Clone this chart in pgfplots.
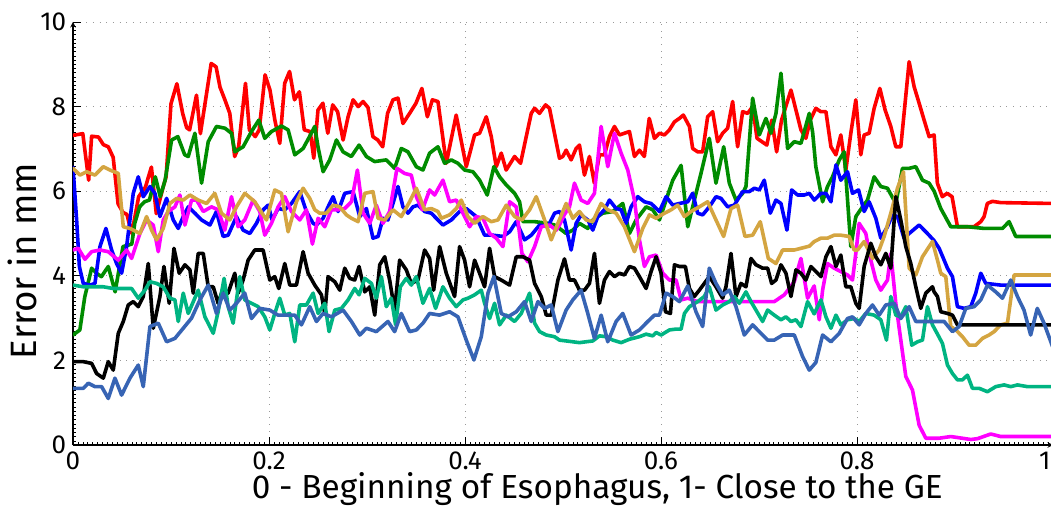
\documentclass[border=0pt]{standalone}
\usepackage{pgfplots}
\pgfplotsset{compat=1.18}
\usepackage{fontspec}
\setmainfont{Fira Sans}
\definecolor{cred}{RGB}{255,0,0}
\definecolor{cgreen}{RGB}{0,140,0}
\definecolor{cblue}{RGB}{0,0,255}
\definecolor{cmag}{RGB}{255,0,255}
\definecolor{cgold}{RGB}{212,165,65}
\definecolor{cteal}{RGB}{0,180,130}
\definecolor{csteel}{RGB}{55,100,180}
\begin{document}
\begin{tikzpicture}
\begin{axis}[
  at={(54.75pt,46.5pt)}, anchor=south west,
  scale only axis, width=735pt, height=317.25pt,
  xmin=0, xmax=1, ymin=0, ymax=10,
  axis lines=left,
  every non boxed x axis/.append style={x axis line style={-}},
  every non boxed y axis/.append style={y axis line style={-}},
  axis line style={black, line width=0.8pt},
  xtick={0,0.2,0.4,0.6,0.8,1},
  ytick={0,2,4,6,8,10},
  xticklabels={0,0.2,0.4,0.6,0.8,\makebox[0pt][r]{1\hspace{2pt}}},
  yticklabels={0,2,4,6,8,10},
  minor x tick num=39, minor y tick num=19,
  tick align=inside,
  major tick length=6pt, minor tick length=2pt,
  tick style={black, line width=0.6pt},
  minor tick style={black, line width=0.4pt},
  grid=major,
  major grid style={gray!80, line width=0.7pt, dash pattern=on 0.8pt off 4.2pt},
  /pgf/number format/assume math mode=true,
  ticklabel style={font=\fontsize{19.5pt}{20pt}\selectfont},
  xticklabel style={anchor=north, inner sep=0pt, yshift=-5pt},
  yticklabel style={anchor=east, inner sep=0pt, xshift=-5pt},
  every axis x label/.style={at={(axis description cs:0.535,-0.104)}, anchor=center, font=\fontsize{25pt}{26pt}\selectfont},
  every axis y label/.style={at={(axis description cs:-0.052,0.435)}, anchor=center, rotate=90, font=\fontsize{27.5pt}{28pt}\selectfont},
  xlabel={0 - Beginning of Esophagus, 1- Close to the GE},
  ylabel={Error in mm},
  every axis plot/.append style={line width=2.7pt, line join=round, line cap=round},
]
% red
\addplot[cred] coordinates {(0,7.32)(0.010,7.36)(0.016,6.26)(0.019,7.30)(0.026,7.28)(0.031,7.10)(0.036,7.05)(0.041,6.80)(0.046,5.70)(0.051,5.50)(0.055,5.45)(0.060,5.00)(0.067,5.87)(0.074,6.10)(0.077,6.34)(0.080,6.57)(0.085,5.47)(0.092,6.10)(0.095,6.34)(0.100,8.07)(0.106,8.54)(0.112,7.83)(0.116,7.50)(0.119,7.45)(0.126,8.27)(0.130,7.36)(0.141,9.02)(0.146,8.94)(0.150,8.46)(0.155,8.16)(0.160,7.84)(0.165,6.82)(0.169,7.05)(0.176,8.55)(0.180,7.45)(0.186,7.29)(0.190,7.45)(0.196,8.75)(0.201,8.39)(0.206,7.68)(0.211,7.13)(0.216,8.55)(0.221,8.83)(0.226,8.16)(0.231,8.35)(0.236,7.45)(0.242,7.41)(0.2457,6.78)(0.250,7.92)(0.255,8.08)(0.260,7.37)(0.265,8.04)(0.270,7.88)(0.2756,7.21)(0.2807,7.76)(0.2858,8.16)(0.291,8.00)(0.296,8.12)(0.301,7.98)(0.306,7.29)(0.311,7.21)(0.316,7.05)(0.321,7.84)(0.3265,8.16)(0.3316,8.20)(0.3367,7.60)(0.3435,7.84)(0.350,8.08)(0.356,8.43)(0.3616,7.76)(0.3667,8.16)(0.3724,8.12)(0.3809,6.66)(0.391,7.80)(0.4013,6.58)(0.4098,7.33)(0.4149,7.37)(0.4217,7.76)(0.4268,7.29)(0.4319,6.58)(0.437,6.90)(0.442,6.50)(0.4506,6.82)(0.4567,6.66)(0.4625,7.29)(0.4676,7.84)(0.471,7.96)(0.476,7.84)(0.4822,8.04)(0.4862,7.96)(0.4913,7.37)(0.4964,6.78)(0.4998,6.82)(0.5032,6.97)(0.5083,6.74)(0.5134,7.01)(0.5168,7.09)(0.5219,6.38)(0.527,6.82)(0.532,6.19)(0.5372,6.86)(0.5423,6.86)(0.5474,7.29)(0.5525,7.53)(0.5576,7.33)(0.5627,7.37)(0.5678,7.41)(0.5729,6.82)(0.578,6.97)(0.583,6.82)(0.588,7.72)(0.5933,7.25)(0.5984,7.37)(0.6035,7.33)(0.6086,7.45)(0.6137,7.64)(0.6188,7.72)(0.6228,7.80)(0.629,7.53)(0.6323,7.01)(0.6374,6.93)(0.6425,6.93)(0.6476,7.76)(0.6527,7.88)(0.6578,7.17)(0.6629,7.37)(0.668,7.49)(0.6731,8.12)(0.6782,7.05)(0.6833,7.88)(0.6884,7.84)(0.6935,8.00)(0.698,7.25)(0.703,7.17)(0.708,7.09)(0.713,7.68)(0.718,6.93)(0.723,7.68)(0.7326,8.39)(0.7377,7.92)(0.7428,7.45)(0.7478,7.25)(0.7523,7.68)(0.758,7.96)(0.763,7.88)(0.7683,7.88)(0.7734,7.05)(0.7785,6.86)(0.7835,7.33)(0.7886,6.50)(0.7937,7.37)(0.7988,8.16)(0.8039,6.86)(0.8073,7.33)(0.8124,7.37)(0.8175,7.96)(0.8233,8.43)(0.8287,7.92)(0.8345,7.53)(0.8396,7.05)(0.8447,7.05)(0.8532,9.06)(0.8583,8.47)(0.8634,8.08)(0.8685,7.68)(0.8736,7.29)(0.8787,7.33)(0.882,6.19)(0.887,5.87)(0.892,5.95)(0.897,5.87)(0.9025,5.16)(0.9195,5.16)(0.9263,5.28)(0.9297,5.40)(0.933,5.71)(0.9382,5.76)(0.9467,5.73)(1.0,5.71)};
% green
\addplot[cgreen] coordinates {(0,2.60)(0.007,2.72)(0.012,3.50)(0.019,4.18)(0.024,4.06)(0.029,3.98)(0.036,4.22)(0.043,3.62)(0.048,4.29)(0.051,4.69)(0.060,4.75)(0.063,5.24)(0.068,5.63)(0.073,5.75)(0.078,5.79)(0.084,6.34)(0.089,5.87)(0.094,6.26)(0.1006,7.21)(0.107,7.29)(0.114,6.86)(0.1176,6.82)(0.1244,7.37)(0.1312,6.19)(0.138,7.17)(0.1464,7.53)(0.155,7.49)(0.1617,7.37)(0.1651,6.93)(0.1736,7.05)(0.1821,7.41)(0.1896,7.68)(0.1957,7.25)(0.2025,7.41)(0.2127,7.54)(0.2195,7.45)(0.2263,6.86)(0.2348,7.01)(0.2416,7.30)(0.2467,7.53)(0.250,7.05)(0.2552,6.46)(0.262,6.74)(0.2688,7.21)(0.2756,6.93)(0.284,6.82)(0.2919,7.09)(0.2994,6.82)(0.3078,6.70)(0.3197,6.74)(0.3282,6.54)(0.335,7.01)(0.3418,6.93)(0.3503,6.58)(0.3571,6.50)(0.3639,6.90)(0.3724,7.05)(0.3792,6.66)(0.386,6.74)(0.3928,6.66)(0.3996,6.50)(0.4081,6.46)(0.4149,6.26)(0.4227,5.91)(0.4295,6.58)(0.4353,6.34)(0.442,6.15)(0.4506,5.95)(0.4557,5.75)(0.4591,5.28)(0.471,5.28)(0.4846,5.24)(0.4914,5.20)(0.4964,5.12)(0.5032,5.00)(0.51,5.08)(0.5168,5.24)(0.5253,5.12)(0.5304,5.32)(0.5406,5.48)(0.5508,5.52)(0.561,5.71)(0.5678,5.00)(0.5746,5.32)(0.5848,5.63)(0.5916,5.56)(0.5984,5.32)(0.6052,5.79)(0.612,6.26)(0.6205,6.61)(0.6273,5.16)(0.634,5.79)(0.6408,6.42)(0.6493,7.25)(0.6561,6.19)(0.664,7.05)(0.6697,6.19)(0.6765,5.79)(0.6833,5.95)(0.6867,6.11)(0.6935,8.20)(0.7003,7.33)(0.7071,7.72)(0.7122,7.37)(0.7173,7.84)(0.7224,8.79)(0.7292,7.01)(0.736,7.17)(0.7428,7.13)(0.7513,7.84)(0.7547,7.40)(0.758,6.58)(0.7649,5.75)(0.7699,6.11)(0.775,6.34)(0.7819,6.74)(0.7869,6.93)(0.7937,4.69)(0.7988,5.40)(0.8056,5.63)(0.8107,5.79)(0.8175,6.34)(0.8243,6.11)(0.8311,6.07)(0.8396,5.71)(0.8464,6.54)(0.8532,6.54)(0.86,6.58)(0.8668,6.26)(0.8736,6.19)(0.8787,6.00)(0.8855,5.59)(0.8957,5.16)(0.9127,5.16)(0.9297,5.12)(0.9484,5.12)(0.9552,5.28)(0.962,4.93)(1.0,4.93)};
% blue
\addplot[cblue] coordinates {(0,6.57)(0.0037,5.32)(0.0065,4.22)(0.0105,3.82)(0.0173,3.78)(0.0224,3.82)(0.0275,4.69)(0.0336,5.12)(0.0394,4.61)(0.0445,4.29)(0.0496,4.06)(0.0547,4.69)(0.0615,5.95)(0.0666,6.34)(0.0717,5.87)(0.0785,6.11)(0.0836,5.95)(0.0887,5.40)(0.0955,5.83)(0.1023,5.32)(0.1074,5.12)(0.1125,5.40)(0.1176,5.63)(0.1244,5.48)(0.1312,5.32)(0.1397,5.20)(0.1464,5.52)(0.1532,4.93)(0.1583,4.96)(0.1668,5.40)(0.1736,5.08)(0.1804,5.00)(0.1872,5.24)(0.194,5.56)(0.1991,5.67)(0.2032,5.32)(0.2093,5.59)(0.2161,5.56)(0.2229,5.71)(0.2314,5.99)(0.2382,5.52)(0.245,5.24)(0.2484,5.20)(0.2552,5.36)(0.2603,5.63)(0.2654,5.87)(0.2705,5.52)(0.2773,5.95)(0.2858,5.99)(0.2926,5.40)(0.2994,5.59)(0.3061,4.89)(0.3113,4.93)(0.3163,5.36)(0.3214,5.32)(0.3265,5.71)(0.3316,6.11)(0.3367,5.63)(0.3418,5.48)(0.3469,5.63)(0.352,5.67)(0.3588,5.52)(0.3656,5.48)(0.3724,5.32)(0.3775,5.20)(0.386,5.32)(0.3945,5.52)(0.4013,5.59)(0.4115,5.40)(0.42,4.96)(0.4285,4.96)(0.4387,4.93)(0.4455,5.04)(0.4523,5.28)(0.4608,4.85)(0.4676,4.96)(0.4761,5.20)(0.4846,5.16)(0.4914,5.48)(0.4965,5.52)(0.5015,5.32)(0.5083,4.61)(0.5134,5.24)(0.5185,5.44)(0.5253,5.32)(0.5304,5.08)(0.5355,5.40)(0.5423,5.56)(0.5474,5.79)(0.5542,5.59)(0.5593,5.56)(0.5644,5.24)(0.5695,5.63)(0.5763,5.87)(0.5831,5.75)(0.5899,5.71)(0.5984,5.52)(0.6052,5.87)(0.612,5.67)(0.6188,5.71)(0.6273,5.75)(0.6323,5.95)(0.6374,5.48)(0.6425,5.44)(0.6493,5.63)(0.6561,5.87)(0.6612,5.83)(0.668,5.63)(0.6748,5.67)(0.6833,5.99)(0.6901,5.99)(0.6952,6.07)(0.7003,6.03)(0.7054,6.26)(0.7115,5.48)(0.7173,5.79)(0.7224,5.71)(0.7285,5.08)(0.7333,6.03)(0.7394,5.91)(0.7462,5.91)(0.7513,5.95)(0.7564,5.79)(0.7632,5.95)(0.7683,5.95)(0.7734,5.75)(0.7785,6.62)(0.7835,6.26)(0.7903,6.46)(0.7954,5.95)(0.8016,6.03)(0.8073,5.52)(0.8124,5.75)(0.8192,5.36)(0.8243,4.89)(0.8311,5.16)(0.8362,5.44)(0.8413,5.40)(0.848,4.89)(0.8532,5.00)(0.8634,5.20)(0.8719,5.00)(0.8787,4.83)(0.8838,4.65)(0.8889,4.37)(0.8923,4.18)(0.8974,3.98)(0.9025,3.27)(0.9093,3.23)(0.9161,3.27)(0.9212,3.59)(0.9263,4.06)(0.9314,3.82)(0.9467,3.78)(1.0,3.78)};
% magenta
\addplot[cmag] coordinates {(0,4.61)(0.0054,4.65)(0.0122,4.39)(0.019,4.57)(0.0275,4.61)(0.036,4.57)(0.0462,4.37)(0.0547,4.61)(0.0598,4.41)(0.0683,5.00)(0.0751,5.32)(0.0819,5.20)(0.087,4.57)(0.0921,5.32)(0.0972,5.52)(0.104,5.63)(0.1091,5.91)(0.1142,5.20)(0.121,5.79)(0.1261,5.79)(0.1329,5.52)(0.1413,5.63)(0.1481,5.56)(0.1549,5.08)(0.1617,5.87)(0.1685,5.16)(0.1753,5.32)(0.1838,5.79)(0.1906,5.52)(0.1957,4.96)(0.2025,5.24)(0.2093,5.63)(0.2161,5.87)(0.2229,5.52)(0.2314,5.32)(0.2382,5.56)(0.2443,4.75)(0.2501,5.36)(0.2569,5.16)(0.2637,5.56)(0.2705,5.56)(0.2773,5.59)(0.2841,5.75)(0.2902,6.50)(0.296,5.48)(0.3028,5.24)(0.3095,5.67)(0.3163,5.24)(0.3231,5.52)(0.3306,6.54)(0.3384,6.42)(0.3452,6.38)(0.3503,5.87)(0.3565,5.56)(0.3639,6.03)(0.369,5.91)(0.3775,6.26)(0.3843,5.75)(0.3911,5.79)(0.3979,5.48)(0.4047,5.16)(0.4115,5.40)(0.4183,5.36)(0.4251,5.00)(0.4319,4.89)(0.4387,4.69)(0.4455,5.75)(0.4523,5.63)(0.4581,4.53)(0.4642,4.33)(0.471,4.69)(0.4778,5.16)(0.4863,5.20)(0.4931,5.08)(0.4964,5.20)(0.5015,5.45)(0.5066,5.63)(0.5117,6.19)(0.5185,5.79)(0.5253,5.71)(0.5321,5.95)(0.5389,7.53)(0.5457,6.58)(0.5525,7.37)(0.5593,6.90)(0.5661,6.50)(0.5729,5.79)(0.578,4.85)(0.5831,4.22)(0.5882,4.45)(0.595,4.49)(0.6018,4.06)(0.6086,3.90)(0.6154,3.90)(0.6205,3.43)(0.6273,3.47)(0.6374,3.39)(0.658,3.39)(0.6918,3.39)(0.7156,3.39)(0.7258,3.55)(0.736,3.86)(0.7428,4.41)(0.7496,3.47)(0.7563,3.76)(0.7615,2.96)(0.7649,3.66)(0.7699,4.29)(0.7767,4.18)(0.7835,4.10)(0.7903,4.02)(0.7954,3.90)(0.7988,4.53)(0.8022,5.24)(0.809,5.00)(0.8141,4.37)(0.8192,3.90)(0.8243,3.66)(0.8311,3.90)(0.8345,4.53)(0.8396,3.35)(0.8447,2.48)(0.8498,1.62)(0.8566,1.30)(0.8634,0.47)(0.8702,0.16)(0.8838,0.16)(0.8957,0.20)(0.9161,0.13)(0.923,0.15)(0.9365,0.26)(0.9467,0.20)(1.0,0.20)};
% gold
\addplot[cgold] coordinates {(0,6.54)(0.0071,6.38)(0.0139,6.46)(0.0224,6.38)(0.0309,6.58)(0.0377,6.50)(0.0462,6.42)(0.0513,5.16)(0.0581,5.12)(0.0683,5.00)(0.0751,5.40)(0.0802,5.08)(0.0853,4.85)(0.0921,5.12)(0.0989,5.71)(0.1057,5.83)(0.1125,5.79)(0.1193,5.91)(0.1278,5.79)(0.1363,5.71)(0.1447,5.95)(0.1515,5.48)(0.16,5.32)(0.1668,5.63)(0.1753,5.95)(0.1855,5.75)(0.1974,5.32)(0.2059,6.03)(0.2127,5.95)(0.2195,5.04)(0.228,5.75)(0.2348,6.07)(0.2416,5.83)(0.2467,5.56)(0.2518,5.48)(0.2586,5.48)(0.2654,5.67)(0.2722,5.63)(0.279,5.44)(0.2841,5.36)(0.2909,5.28)(0.2977,5.95)(0.3061,5.99)(0.3113,5.36)(0.3181,5.32)(0.3265,5.56)(0.335,5.40)(0.3435,5.75)(0.3503,6.07)(0.3588,5.56)(0.3656,5.59)(0.3724,5.52)(0.3758,5.36)(0.3843,5.44)(0.3911,5.59)(0.3962,5.79)(0.403,5.40)(0.4098,5.24)(0.4183,5.40)(0.4268,5.28)(0.4336,5.32)(0.4421,5.67)(0.4506,5.40)(0.4581,5.32)(0.4659,5.56)(0.4727,5.87)(0.4812,5.32)(0.488,4.85)(0.4948,5.24)(0.5032,5.71)(0.51,5.36)(0.5168,5.52)(0.5236,5.32)(0.5304,5.28)(0.5389,5.71)(0.5457,5.56)(0.5542,5.48)(0.5627,5.16)(0.5729,4.57)(0.5814,5.12)(0.5882,5.44)(0.595,5.36)(0.6035,5.48)(0.6103,5.56)(0.6171,5.67)(0.6239,5.40)(0.6306,5.52)(0.6391,5.63)(0.6476,5.75)(0.6561,5.32)(0.6639,4.93)(0.6714,5.59)(0.6782,5.67)(0.6857,4.93)(0.6935,4.96)(0.7013,5.28)(0.7095,4.41)(0.7173,4.29)(0.7241,4.61)(0.736,4.61)(0.7513,4.70)(0.7564,4.81)(0.7632,4.89)(0.7699,4.89)(0.7767,4.96)(0.7835,4.96)(0.792,4.93)(0.7971,4.61)(0.8005,4.61)(0.8073,4.81)(0.8158,4.41)(0.8226,4.61)(0.8277,4.93)(0.8345,5.48)(0.8413,6.07)(0.8474,6.46)(0.8532,4.18)(0.86,4.02)(0.8668,4.45)(0.877,4.81)(0.8821,4.37)(0.8855,4.06)(0.8906,3.98)(0.8957,2.80)(0.9008,2.72)(0.9076,2.56)(0.9144,2.36)(0.9212,2.36)(0.928,2.52)(0.9348,2.60)(0.9399,2.68)(0.9467,2.84)(0.9535,2.88)(0.9603,4.02)(0.9772,4.02)(1.0,4.02)};
% black
\addplot[black] coordinates {(0,1.97)(0.0105,1.97)(0.019,1.93)(0.0241,1.69)(0.0309,1.58)(0.036,1.97)(0.0411,1.77)(0.0462,2.64)(0.0513,2.92)(0.0564,3.31)(0.0615,3.39)(0.0666,3.27)(0.0717,3.51)(0.0768,4.29)(0.0819,2.76)(0.0887,3.51)(0.0928,4.22)(0.0982,3.35)(0.103,4.65)(0.1084,4.06)(0.1142,4.26)(0.1193,4.14)(0.1227,3.59)(0.1278,4.53)(0.1329,4.53)(0.138,3.74)(0.1431,3.74)(0.1481,3.35)(0.1532,3.70)(0.1583,3.59)(0.1651,4.06)(0.1685,3.59)(0.1736,3.90)(0.1787,4.37)(0.1855,4.61)(0.194,4.61)(0.2008,3.90)(0.2059,3.98)(0.21,3.70)(0.2161,4.29)(0.2212,3.78)(0.228,3.78)(0.2348,4.57)(0.2399,4.06)(0.2467,3.78)(0.2535,3.55)(0.2569,3.11)(0.2603,3.98)(0.2671,3.86)(0.2722,3.66)(0.2773,4.18)(0.2824,3.94)(0.2875,3.90)(0.2919,4.22)(0.2977,3.62)(0.3028,3.74)(0.3079,3.07)(0.313,4.26)(0.3181,4.45)(0.3231,3.90)(0.3282,3.19)(0.3333,4.37)(0.3401,4.14)(0.3452,3.82)(0.352,3.90)(0.3588,4.61)(0.3639,4.41)(0.368,3.66)(0.3741,4.69)(0.3809,4.06)(0.3894,3.51)(0.3945,4.69)(0.3996,4.37)(0.4047,3.74)(0.4098,4.37)(0.4149,4.06)(0.42,3.74)(0.4251,4.65)(0.4302,3.98)(0.437,3.90)(0.4455,3.78)(0.4523,4.45)(0.4591,4.45)(0.4659,4.37)(0.471,3.82)(0.4778,3.51)(0.4829,3.07)(0.488,3.07)(0.4948,3.90)(0.5015,4.40)(0.5066,3.90)(0.5117,3.90)(0.5168,3.66)(0.5219,3.66)(0.527,3.82)(0.5321,4.53)(0.5372,3.35)(0.5423,3.90)(0.5474,4.10)(0.5525,3.98)(0.5576,4.06)(0.5627,4.02)(0.5678,4.22)(0.5729,4.18)(0.578,3.98)(0.5848,3.70)(0.5899,4.10)(0.595,4.45)(0.6001,4.06)(0.6045,3.15)(0.6096,3.11)(0.6137,4.26)(0.6188,4.22)(0.6249,4.22)(0.629,3.70)(0.634,3.51)(0.6391,3.66)(0.6442,3.82)(0.6493,3.98)(0.6561,3.74)(0.6629,3.47)(0.6663,3.74)(0.6714,4.53)(0.6765,3.51)(0.6816,3.82)(0.6867,3.74)(0.6918,4.41)(0.6969,4.26)(0.7037,4.18)(0.7088,4.18)(0.7129,3.82)(0.7173,3.90)(0.7224,4.26)(0.7275,4.06)(0.7326,3.51)(0.7377,4.14)(0.7428,4.06)(0.7478,3.90)(0.753,4.22)(0.7564,4.14)(0.7632,3.98)(0.7683,4.45)(0.7734,4.69)(0.7785,4.22)(0.7835,4.49)(0.7886,3.74)(0.7937,3.74)(0.7988,3.35)(0.8022,3.23)(0.8073,4.22)(0.8141,4.77)(0.8192,4.45)(0.8243,4.26)(0.8294,4.53)(0.8345,4.18)(0.8396,5.87)(0.8447,5.32)(0.8498,4.69)(0.8549,4.29)(0.86,3.74)(0.8651,3.23)(0.8702,3.59)(0.877,3.74)(0.8787,3.62)(0.8821,3.51)(0.8855,3.15)(0.8923,3.11)(0.8974,3.07)(0.9025,2.84)(1.0,2.84)};
% teal
\addplot[cteal] coordinates {(0,3.78)(0.0105,3.74)(0.0207,3.74)(0.0309,3.74)(0.0411,3.70)(0.0513,3.70)(0.0598,3.70)(0.0666,3.47)(0.0734,3.66)(0.0785,3.86)(0.0853,3.82)(0.0921,3.74)(0.0989,3.47)(0.104,3.43)(0.1074,2.92)(0.1125,3.59)(0.1176,3.11)(0.1278,3.66)(0.1346,3.03)(0.1431,2.64)(0.1481,3.15)(0.1542,3.94)(0.1583,3.27)(0.1634,2.88)(0.1702,3.98)(0.1753,3.43)(0.1821,3.35)(0.1889,3.27)(0.1957,3.03)(0.2008,2.72)(0.2059,3.11)(0.211,3.47)(0.2161,3.07)(0.2212,3.11)(0.2263,2.44)(0.2314,3.31)(0.2382,3.31)(0.245,3.59)(0.2501,3.11)(0.2569,3.35)(0.2613,2.68)(0.2671,3.19)(0.2739,3.23)(0.2807,3.43)(0.2875,3.70)(0.2919,3.55)(0.2977,3.94)(0.3045,3.82)(0.3095,3.47)(0.3147,3.98)(0.3197,3.27)(0.3248,3.47)(0.3292,2.84)(0.334,3.74)(0.3401,3.94)(0.3452,3.78)(0.3503,3.98)(0.3571,3.35)(0.3639,3.70)(0.37,3.23)(0.3775,3.74)(0.3843,3.47)(0.3911,3.27)(0.3979,3.43)(0.403,3.47)(0.4098,3.55)(0.4166,3.66)(0.42,3.35)(0.4251,2.99)(0.4302,3.35)(0.4353,2.84)(0.4421,3.07)(0.4506,2.92)(0.4574,3.11)(0.4659,3.59)(0.471,2.88)(0.4761,2.68)(0.4829,2.60)(0.4914,2.56)(0.4964,2.48)(0.5168,2.42)(0.5304,2.46)(0.5372,2.58)(0.544,2.56)(0.5508,2.48)(0.5593,2.42)(0.5678,2.50)(0.578,2.56)(0.5848,2.62)(0.5916,2.58)(0.595,2.66)(0.6001,2.60)(0.6086,2.72)(0.6154,2.74)(0.6205,2.74)(0.6239,3.11)(0.629,3.27)(0.6374,3.39)(0.6442,3.51)(0.6493,3.74)(0.6561,3.19)(0.6629,3.31)(0.6697,3.39)(0.6748,3.51)(0.6799,3.35)(0.6867,3.62)(0.6918,3.39)(0.6969,3.19)(0.7037,2.92)(0.7088,3.19)(0.7156,3.07)(0.7224,2.96)(0.7275,3.03)(0.7326,2.92)(0.7377,2.96)(0.7428,2.80)(0.7496,3.39)(0.7563,3.10)(0.7632,3.43)(0.7683,3.03)(0.7734,2.76)(0.7785,3.07)(0.7835,2.84)(0.7903,2.96)(0.7971,2.99)(0.8022,2.92)(0.809,3.11)(0.8175,3.07)(0.8243,2.96)(0.8301,2.48)(0.8345,3.51)(0.8396,3.07)(0.8447,3.03)(0.8498,3.27)(0.8559,2.36)(0.8617,2.44)(0.8668,2.48)(0.8719,3.27)(0.877,2.84)(0.8838,2.55)(0.8872,2.40)(0.8923,1.89)(0.8974,1.69)(0.9025,1.54)(0.9076,1.54)(0.9127,1.65)(0.9178,1.34)(0.9246,1.34)(0.9331,1.26)(0.9416,1.38)(0.9501,1.42)(0.9569,1.38)(0.9637,1.42)(0.9739,1.38)(1.0,1.38)};
% steel blue
\addplot[csteel] coordinates {(0,1.34)(0.0105,1.34)(0.0156,1.46)(0.0224,1.38)(0.0292,1.38)(0.036,1.10)(0.0428,1.58)(0.0496,1.18)(0.0581,1.58)(0.0666,1.89)(0.0717,1.38)(0.0785,2.80)(0.087,2.88)(0.0955,2.44)(0.104,2.52)(0.1125,2.76)(0.121,3.00)(0.1295,3.43)(0.138,3.78)(0.1464,3.11)(0.1532,3.59)(0.16,3.19)(0.1668,3.35)(0.1753,3.59)(0.1821,2.99)(0.1906,3.23)(0.2008,3.19)(0.2093,3.07)(0.2178,3.07)(0.2263,3.07)(0.2331,2.84)(0.2416,3.27)(0.2484,2.92)(0.2552,3.11)(0.2637,3.03)(0.2756,3.19)(0.2841,2.92)(0.2926,2.60)(0.2994,2.76)(0.3095,2.68)(0.3214,2.92)(0.3282,2.68)(0.335,3.11)(0.3435,2.68)(0.3503,2.72)(0.3571,2.88)(0.3639,3.11)(0.374,3.07)(0.3843,3.15)(0.3928,3.03)(0.4013,2.48)(0.4091,2.01)(0.4166,2.56)(0.4234,3.59)(0.4295,3.98)(0.437,3.11)(0.4438,3.03)(0.4523,3.15)(0.4608,3.39)(0.4676,2.92)(0.4744,3.39)(0.4812,3.23)(0.488,3.31)(0.4948,2.68)(0.5032,3.19)(0.51,3.43)(0.5185,3.66)(0.5253,3.11)(0.5321,2.52)(0.5389,3.07)(0.5457,2.44)(0.5542,2.92)(0.561,3.11)(0.5695,2.60)(0.578,2.72)(0.5865,2.92)(0.5933,3.07)(0.5984,3.07)(0.6052,3.59)(0.612,3.51)(0.6188,3.39)(0.6273,3.76)(0.6357,3.15)(0.6425,2.80)(0.6493,4.18)(0.6561,3.82)(0.6629,3.55)(0.6697,3.66)(0.6765,3.27)(0.685,2.60)(0.6935,2.84)(0.702,2.64)(0.7088,2.48)(0.7156,2.48)(0.7241,2.60)(0.736,2.60)(0.7445,2.09)(0.7513,1.77)(0.758,1.95)(0.7649,2.60)(0.7734,2.44)(0.7819,2.64)(0.7903,2.99)(0.7954,3.03)(0.8022,2.84)(0.809,3.11)(0.8158,3.31)(0.8226,3.07)(0.8294,3.31)(0.838,3.35)(0.8447,2.99)(0.8532,3.27)(0.86,2.92)(0.8702,2.92)(0.8889,2.92)(0.8974,2.68)(0.9042,2.80)(0.911,3.23)(0.9195,3.27)(0.9263,3.43)(0.9331,3.78)(0.9416,3.62)(0.9484,3.47)(0.9569,3.90)(0.9637,3.51)(0.9704,3.19)(0.9772,2.60)(0.984,3.23)(0.9908,2.88)(1.0,2.30)};
\end{axis}
\pgfresetboundingbox
\path[use as bounding box] (0,0) rectangle (788.25pt,380.25pt);
\end{tikzpicture}
\end{document}
